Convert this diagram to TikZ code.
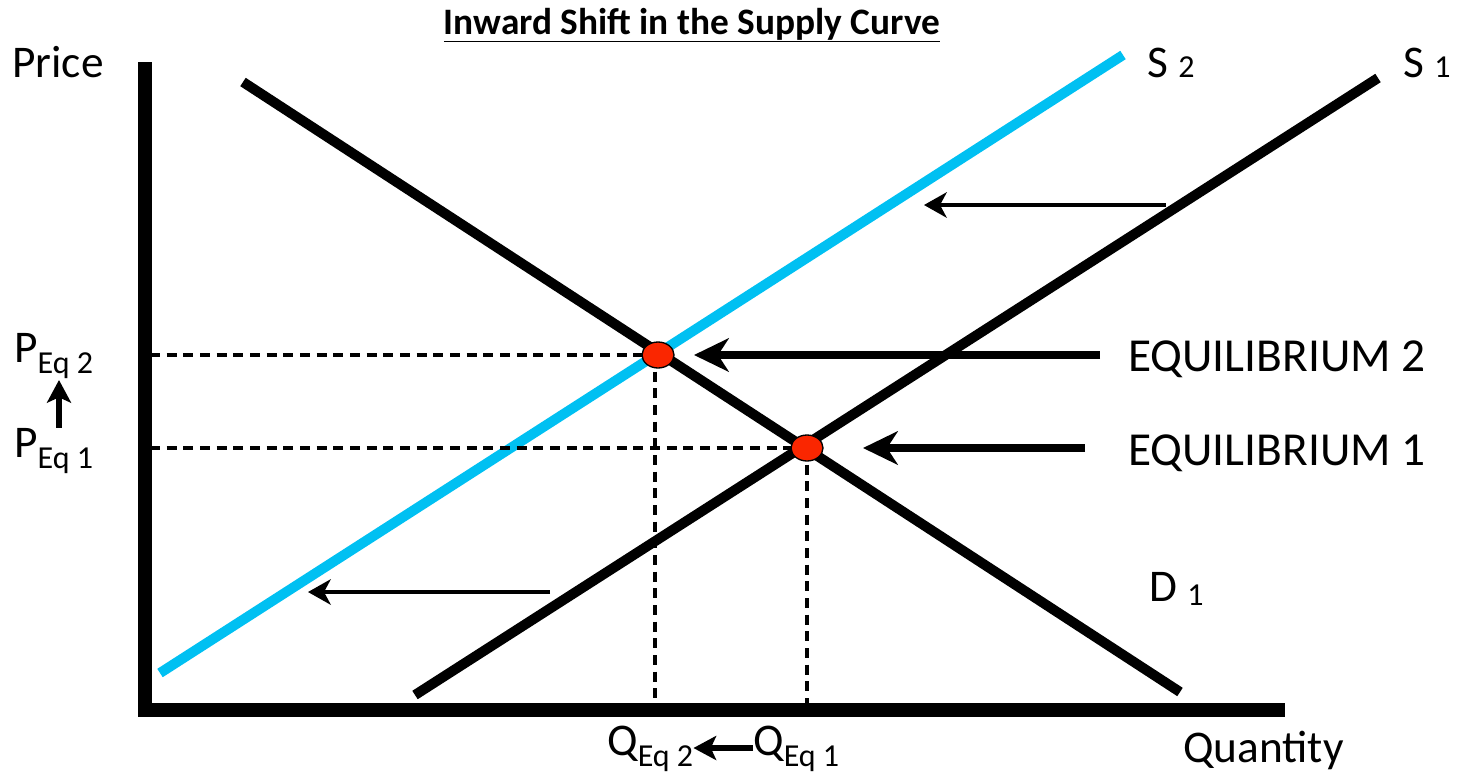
\documentclass[tikz,border=0pt]{standalone}
\usepackage{fontspec}
\setmainfont{Carlito}
\usetikzlibrary{arrows.meta,positioning,shapes.geometric}

\definecolor{supplyblue}{RGB}{0,192,242}
\definecolor{eqred}{RGB}{250,38,0}

\newcommand{\bigtxt}{\fontsize{34}{38}\selectfont}
\newcommand{\subtxt}[1]{\raisebox{-8.5pt}{\fontsize{24}{26}\selectfont #1}}
\newcommand{\idxtxt}[1]{{\fontsize{24}{26}\selectfont #1}}

\begin{document}
\begin{tikzpicture}[x=0.75pt,y=-0.75pt]
\tikzset{
  axisline/.style={line width=10pt},
  curveline/.style={line width=7.5pt},
  guide/.style={line width=3.6pt,dash pattern=on 7.5pt off 5pt},
  eqpoint/.style={ellipse,draw,line width=1pt,fill=eqred,minimum width=24pt,minimum height=19.5pt,inner sep=0pt},
  bigarrow/.style={-{Stealth[length=26pt,width=25pt,inset=8pt]},line width=5.5pt},
  thinarrow/.style={-{Stealth[length=17pt,width=19pt,inset=5pt]},line width=3.4pt},
  smallarrow/.style={-{Stealth[length=17pt,width=18pt,inset=4pt]},line width=4pt},
  lbl/.style={font=\bigtxt,inner sep=0pt,anchor=base west}
}
\useasboundingbox (0,0) rectangle (1463,772);

% title
\node[font=\fontsize{28}{30}\selectfont\bfseries,inner sep=0pt,anchor=base] (title) at (692,34) {\underline{Inward Shift in the Supply Curve}};

% axes
\coordinate (origin) at (145,710);
\coordinate (ytop) at (145,62);
\coordinate (xend) at (1285,710);
\draw[axisline] (ytop) -- (145,716);
\draw[axisline] (138,710) -- (xend);
\node[lbl] (price) at (12,77) {Price};
\node[lbl] (quantity) at (1183,762) {Quantity};

% curves
\coordinate (d1start) at (243,82);
\coordinate (d1end) at (1180,692);
\coordinate (s1start) at (415,695);
\coordinate (s1end) at (1378,78);
\coordinate (s2start) at (160,673);
\coordinate (s2end) at (1123,55);
\draw[curveline] (d1start) -- (d1end);
\draw[curveline] (s1start) -- (s1end);
\draw[curveline,supplyblue] (s2start) -- (s2end);
\node[lbl] (s2lbl) at (1147,77) {S \idxtxt{2}};
\node[lbl] (s1lbl) at (1403,77) {S \idxtxt{1}};
\node[lbl] (d1lbl) at (1149,601) {D \raisebox{-3pt}{\idxtxt{1}}};

% equilibrium points and guides
\coordinate (e2) at (658,355);
\coordinate (e1) at (807,448);
\draw[guide] (150,355) -- (e2);
\draw[guide] (150,448) -- (e1);
\draw[guide] (655,355) -- (655,704);
\draw[guide] (807,448) -- (807,704);
\node[eqpoint] (eq2) at (e2) {};
\node[eqpoint] (eq1) at (e1) {};

% equilibrium labels
\node[lbl,font=\fontsize{35.5}{38}\selectfont] (eqlbl2) at (1128,371) {EQUILIBRIUM 2};
\node[lbl,font=\fontsize{35.5}{38}\selectfont] (eqlbl1) at (1128,465) {EQUILIBRIUM 1};
\coordinate (tail2) at (1100,355);
\coordinate (tip2) at (694,355);
\coordinate (tail1) at (1085,448);
\coordinate (tip1) at (863,448);
\draw[bigarrow] (tail2) -- (tip2);
\draw[bigarrow] (tail1) -- (tip1);

% shift arrows
\coordinate (shifttail1) at (1166,205);
\coordinate (shifttip1) at (924,205);
\coordinate (shifttail2) at (550,592);
\coordinate (shifttip2) at (308,592);
\draw[thinarrow] (shifttail1) -- (shifttip1);
\draw[thinarrow] (shifttail2) -- (shifttip2);

% price and quantity labels
\node[lbl] (peq2) at (14,362) {P\subtxt{Eq 2}};
\node[lbl] (peq1) at (14,457) {P\subtxt{Eq 1}};
\draw[smallarrow] (peq1.north -| 59,0) -- (59,380);
\node[lbl] (qeq2) at (607,755) {Q\subtxt{Eq 2}};
\node[lbl] (qeq1) at (753,755) {Q\subtxt{Eq 1}};
\draw[smallarrow] (qeq1.west |- 0,748) -- (qeq2.east |- 0,748);
\end{tikzpicture}
\end{document}
